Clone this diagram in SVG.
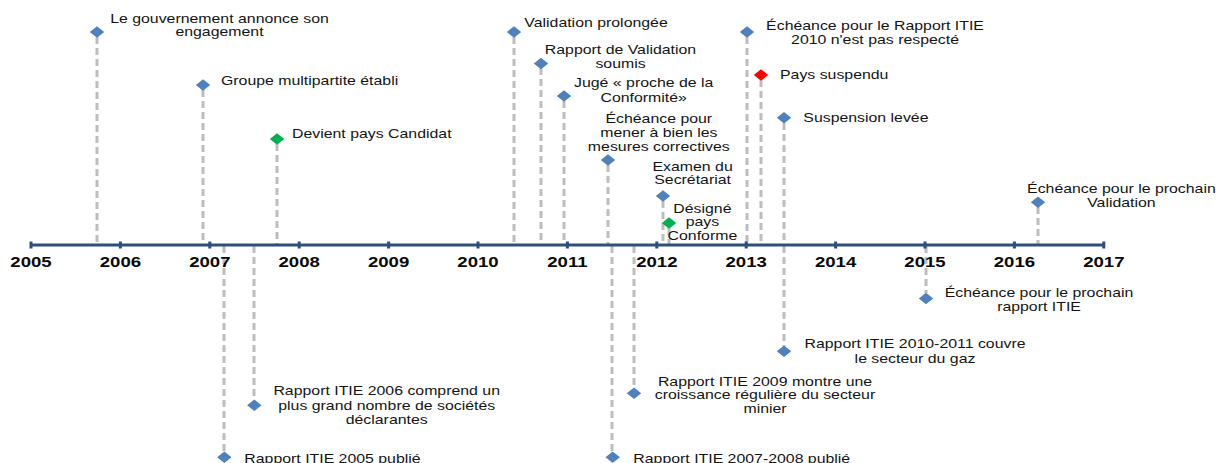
<svg xmlns="http://www.w3.org/2000/svg" xmlns:xlink="http://www.w3.org/1999/xlink" width="1216" height="463" viewBox="0 0 1216 463">
<style>
.t{font-family:"Liberation Sans",Arial,sans-serif;font-size:13px;fill:#141414}
.y{font-family:"Liberation Sans",Arial,sans-serif;font-size:14.3px;font-weight:bold;fill:#0a0a0a}
.c{text-anchor:middle}
.b{fill:#4f81bd}
.g{fill:#00b050}
.r{fill:#ff0000}
.d{stroke:#bdbdbd;stroke-width:3;stroke-dasharray:7 4;fill:none}
.ax{stroke:#2c4e80;stroke-width:3;fill:none}
</style>
<defs>
<path id="dm" d="M-7.2,0L0,-5.7L7.2,0L0,5.7Z"/>
</defs>
<rect width="1216" height="463" fill="#ffffff"/>
<g id="connectors">
<line class="d" x1="97" y1="37" x2="97" y2="244"/>
<line class="d" x1="203" y1="90" x2="203" y2="244"/>
<line class="d" x1="277" y1="144" x2="277" y2="244"/>
<line class="d" x1="514" y1="37" x2="514" y2="244"/>
<line class="d" x1="541" y1="68" x2="541" y2="244"/>
<line class="d" x1="564" y1="101" x2="564" y2="244"/>
<line class="d" x1="608" y1="165" x2="608" y2="244"/>
<line class="d" x1="663" y1="201" x2="663" y2="244"/>
<line class="d" x1="669" y1="228" x2="669" y2="244"/>
<line class="d" x1="747" y1="37" x2="747" y2="244"/>
<line class="d" x1="761" y1="80" x2="761" y2="244"/>
<line class="d" x1="784" y1="123" x2="784" y2="244"/>
<line class="d" x1="1038" y1="207" x2="1038" y2="244"/>
<line class="d" x1="224" y1="246" x2="224" y2="452"/>
<line class="d" x1="254" y1="246" x2="254" y2="400"/>
<line class="d" x1="612" y1="246" x2="612" y2="452"/>
<line class="d" x1="634" y1="246" x2="634" y2="388"/>
<line class="d" x1="784" y1="246" x2="784" y2="346"/>
<line class="d" x1="926" y1="246" x2="926" y2="293"/>
</g>
<g id="axis">
<line class="ax" x1="31" y1="245" x2="1104" y2="245"/>
<path class="ax" d="M31,241.5v7M120.4,241.5v7M209.8,241.5v7M299.2,241.5v7M388.6,241.5v7M478,241.5v7M567.4,241.5v7M656.8,241.5v7M746.2,241.5v7M835.6,241.5v7M925,241.5v7M1014.4,241.5v7M1103.8,241.5v7"/>
<text class="y c" transform="translate(31 267) scale(1.3 1)">2005</text>
<text class="y c" transform="translate(120.4 267) scale(1.3 1)">2006</text>
<text class="y c" transform="translate(209.8 267) scale(1.3 1)">2007</text>
<text class="y c" transform="translate(299.2 267) scale(1.3 1)">2008</text>
<text class="y c" transform="translate(388.6 267) scale(1.3 1)">2009</text>
<text class="y c" transform="translate(478 267) scale(1.3 1)">2010</text>
<text class="y c" transform="translate(567.4 267) scale(1.3 1)">2011</text>
<text class="y c" transform="translate(656.8 267) scale(1.3 1)">2012</text>
<text class="y c" transform="translate(746.2 267) scale(1.3 1)">2013</text>
<text class="y c" transform="translate(835.6 267) scale(1.3 1)">2014</text>
<text class="y c" transform="translate(925 267) scale(1.3 1)">2015</text>
<text class="y c" transform="translate(1014.4 267) scale(1.3 1)">2016</text>
<text class="y c" transform="translate(1103.8 267) scale(1.3 1)">2017</text>
</g>
<g id="e2005-engagement">
<use xlink:href="#dm" href="#dm" class="b" x="97" y="32"/>
<text class="t c" transform="translate(219.5 0) scale(1.22 1)"><tspan x="0" y="22.7">Le gouvernement annonce son</tspan><tspan x="0" y="36.5">engagement</tspan></text>
</g>
<g id="e2006-groupe">
<use xlink:href="#dm" href="#dm" class="b" x="203" y="85"/>
<text class="t" transform="translate(221 84.7) scale(1.22 1)">Groupe multipartite établi</text>
</g>
<g id="e2007-candidat">
<use xlink:href="#dm" href="#dm" class="g" x="277" y="139"/>
<text class="t" transform="translate(292 138.3) scale(1.22 1)">Devient pays Candidat</text>
</g>
<g id="e2010-validation">
<use xlink:href="#dm" href="#dm" class="b" x="514" y="32"/>
<text class="t" transform="translate(524.3 27) scale(1.22 1)">Validation prolongée</text>
</g>
<g id="e2010-rapport-validation">
<use xlink:href="#dm" href="#dm" class="b" x="541" y="63.5"/>
<text class="t c" transform="translate(620.5 0) scale(1.22 1)"><tspan x="0" y="54">Rapport de Validation</tspan><tspan x="0" y="68">soumis</tspan></text>
</g>
<g id="e2010-juge">
<use xlink:href="#dm" href="#dm" class="b" x="564" y="96"/>
<text class="t c" transform="translate(643.7 0) scale(1.22 1)"><tspan x="0" y="87.3">Jugé « proche de la</tspan><tspan x="0" y="101.7">Conformité»</tspan></text>
</g>
<g id="e2011-echeance">
<use xlink:href="#dm" href="#dm" class="b" x="608" y="160"/>
<text class="t c" transform="translate(658.8 0) scale(1.22 1)"><tspan x="0" y="123.3">Échéance pour</tspan><tspan x="0" y="137.3">mener à bien les</tspan><tspan x="0" y="150.7">mesures correctives</tspan></text>
</g>
<g id="e2012-examen">
<use xlink:href="#dm" href="#dm" class="b" x="663" y="196"/>
<text class="t c" transform="translate(692.6 0) scale(1.22 1)"><tspan x="0" y="170.7">Examen du</tspan><tspan x="0" y="184.3">Secrétariat</tspan></text>
</g>
<g id="e2012-conforme">
<use xlink:href="#dm" href="#dm" class="g" x="669" y="223"/>
<text class="t c" transform="translate(702.4 0) scale(1.22 1)"><tspan x="0" y="212.7">Désigné</tspan><tspan x="0" y="226.3">pays</tspan><tspan x="0" y="240">Conforme</tspan></text>
</g>
<g id="e2013-echeance-rapport">
<use xlink:href="#dm" href="#dm" class="b" x="747" y="32"/>
<text class="t c" transform="translate(875 0) scale(1.22 1)"><tspan x="0" y="30">Échéance pour le Rapport ITIE</tspan><tspan x="0" y="44.3">2010 n'est pas respecté</tspan></text>
</g>
<g id="e2013-suspendu">
<use xlink:href="#dm" href="#dm" class="r" x="761" y="75"/>
<text class="t" transform="translate(780 79.3) scale(1.22 1)">Pays suspendu</text>
</g>
<g id="e2013-levee">
<use xlink:href="#dm" href="#dm" class="b" x="784" y="117.7"/>
<text class="t" transform="translate(803.3 122.3) scale(1.22 1)">Suspension levée</text>
</g>
<g id="e2016-validation">
<use xlink:href="#dm" href="#dm" class="b" x="1038" y="202.3"/>
<text class="t c" transform="translate(1121.4 0) scale(1.22 1)"><tspan x="0" y="193.3">Échéance pour le prochain</tspan><tspan x="0" y="207.3">Validation</tspan></text>
</g>
<g id="e2007-rapport2005">
<use xlink:href="#dm" href="#dm" class="b" x="224.3" y="457.3"/>
<text class="t" transform="translate(244.3 462.5) scale(1.22 1)">Rapport ITIE 2005 publié</text>
</g>
<g id="e2007-rapport2006">
<use xlink:href="#dm" href="#dm" class="b" x="254.3" y="405.3"/>
<text class="t c" transform="translate(386.7 0) scale(1.22 1)"><tspan x="0" y="395">Rapport ITIE 2006 comprend un</tspan><tspan x="0" y="409.7">plus grand nombre de sociétés</tspan><tspan x="0" y="424">déclarantes</tspan></text>
</g>
<g id="e2011-rapport2007">
<use xlink:href="#dm" href="#dm" class="b" x="612.7" y="457.3"/>
<text class="t" transform="translate(633.3 462.5) scale(1.22 1)">Rapport ITIE 2007-2008 publié</text>
</g>
<g id="e2011-rapport2009">
<use xlink:href="#dm" href="#dm" class="b" x="634" y="393.3"/>
<text class="t c" transform="translate(765 0) scale(1.22 1)"><tspan x="0" y="386">Rapport ITIE 2009 montre une</tspan><tspan x="0" y="399.5">croissance régulière du secteur</tspan><tspan x="0" y="413">minier</tspan></text>
</g>
<g id="e2013-rapport2010">
<use xlink:href="#dm" href="#dm" class="b" x="784" y="351.3"/>
<text class="t c" transform="translate(915 0) scale(1.22 1)"><tspan x="0" y="348.3">Rapport ITIE 2010-2011 couvre</tspan><tspan x="0" y="363">le secteur du gaz</tspan></text>
</g>
<g id="e2015-rapport">
<use xlink:href="#dm" href="#dm" class="b" x="926" y="298.5"/>
<text class="t c" transform="translate(1039 0) scale(1.22 1)"><tspan x="0" y="296.7">Échéance pour le prochain</tspan><tspan x="0" y="311">rapport ITIE</tspan></text>
</g>
</svg>
